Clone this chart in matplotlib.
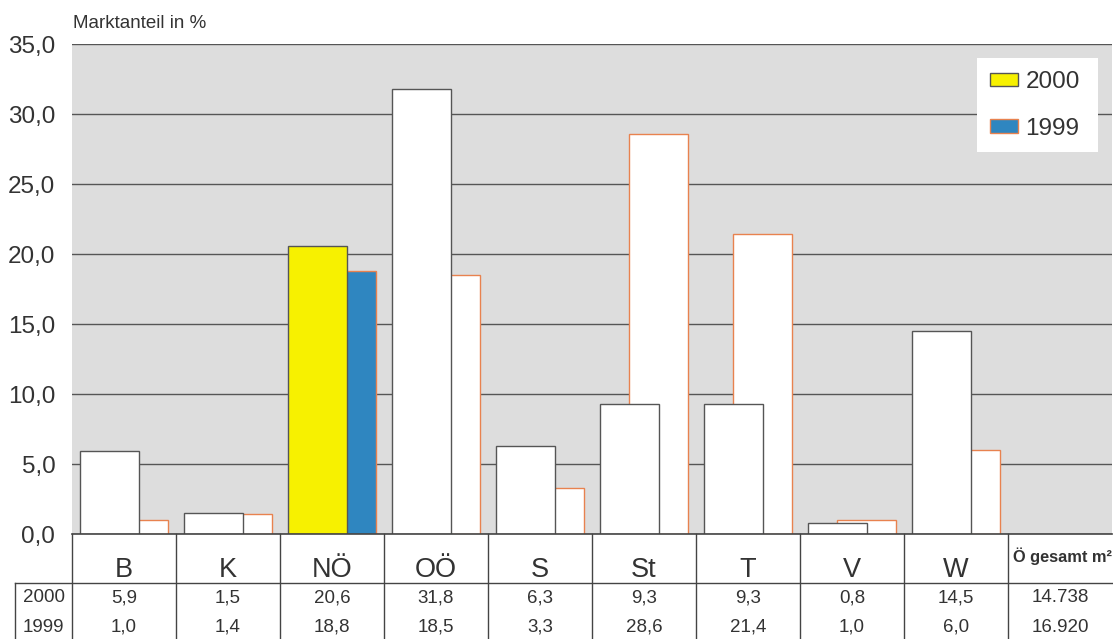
import matplotlib.pyplot as plt
from matplotlib.patches import Patch, Rectangle
import numpy as np

plt.rcParams['font.family'] = ['Liberation Sans', 'DejaVu Sans']

# data
regions = ["B", "K", "NÖ", "OÖ", "S", "St", "T", "V", "W"]
share_2000 = [5.9, 1.5, 20.6, 31.8, 6.3, 9.3, 9.3, 0.8, 14.5]
share_1999 = [1.0, 1.4, 18.8, 18.5, 3.3, 28.6, 21.4, 1.0, 6.0]
labels_2000 = ["5,9", "1,5", "20,6", "31,8", "6,3", "9,3", "9,3", "0,8", "14,5"]
labels_1999 = ["1,0", "1,4", "18,8", "18,5", "3,3", "28,6", "21,4", "1,0", "6,0"]
total_label = "Ö gesamt m²"
total_2000 = "14.738"
total_1999 = "16.920"
series_names = ["2000", "1999"]
highlight = "NÖ"

txt = "#333333"
grid_c = "#555555"
bg = "#dddddd"
yellow = "#f7f100"
blue = "#2f86c0"
orange = "#e8824f"

W, H = 1113, 639
fig = plt.figure(figsize=(W / 100, H / 100), dpi=100)

ax = fig.add_axes([72 / W, 105 / H, 1040 / W, 490 / H])
ax.set_facecolor(bg)
x = np.arange(len(regions))
bw = 0.567
off = 0.14

cols_2000 = [yellow if r == highlight else "white" for r in regions]
cols_1999 = [blue if r == highlight else "white" for r in regions]

ax.bar(x + off, share_1999, width=bw, color=cols_1999, edgecolor=orange, linewidth=1.0, zorder=2)
ax.bar(x - off, share_2000, width=bw, color=cols_2000, edgecolor=grid_c, linewidth=1.0, zorder=3)

ax.set_xlim(-0.5, 9.5)
ax.set_ylim(0, 35)
ax.set_yticks(np.arange(0, 36, 5))
ax.set_yticklabels([f"{v:.1f}".replace(".", ",") for v in np.arange(0, 36, 5)], fontsize=17.5, color=txt)
ax.tick_params(axis='y', length=0, pad=12)
ax.set_xticks([])
ax.yaxis.grid(True, color=grid_c, linewidth=1.0, zorder=1)
ax.set_axisbelow(True)
for s in ax.spines.values():
    s.set_visible(False)

fig.text(73 / W, 1 - 24 / H, "Marktanteil in %", fontsize=13.5, color=txt, va='center', ha='left')

# legend: white box + frameless legend
ax.add_patch(Rectangle(((977 - 72) / 1040, (534 - 152) / 490), 121 / 1040, 94 / 490,
                       transform=ax.transAxes, facecolor="white", edgecolor="none", zorder=5))
handles = [Patch(facecolor=yellow, edgecolor=grid_c, label=series_names[0]),
           Patch(facecolor=blue, edgecolor=orange, label=series_names[1])]
leg = ax.legend(handles=handles, loc='upper left', bbox_to_anchor=((977 - 72) / 1040, (534 - 58) / 490),
                fontsize=17.5, frameon=False,
                handlelength=1.15, handleheight=0.45, handletextpad=0.3, labelspacing=1.0,
                borderpad=0.55, borderaxespad=0, labelcolor=txt)
leg.set_zorder(6)

# table below
tb = fig.add_axes([72 / W, 0, 1040 / W, 105 / H])
tb.set_xlim(-0.5, 9.5)
tb.set_ylim(0, 105)
tb.axis('off')
lc = "#444444"
left_x = -0.5 - 57 / 104
for k in range(10):
    tb.plot([-0.5 + k, -0.5 + k], [0, 105], color=lc, lw=1.0, clip_on=False)
tb.plot([-0.5, 9.5], [105, 105], color=lc, lw=1.2, clip_on=False)
tb.plot([left_x, 9.5], [56, 56], color=lc, lw=1.0, clip_on=False)
tb.plot([left_x, left_x], [0, 56], color=lc, lw=1.0, clip_on=False)

for i, r in enumerate(regions):
    tb.text(i, 69, r, fontsize=19.5, color=txt, ha='center', va='center')
    tb.text(i, 41, labels_2000[i], fontsize=13.5, color=txt, ha='center', va='center')
    tb.text(i, 12, labels_1999[i], fontsize=13.5, color=txt, ha='center', va='center')
tb.text(9.02, 83, total_label, fontsize=11.8, fontweight='bold', color=txt, ha='center', va='center', clip_on=False)
tb.text(9, 41, total_2000, fontsize=13.5, color=txt, ha='center', va='center')
tb.text(9, 12, total_1999, fontsize=13.5, color=txt, ha='center', va='center')
lab_x = (left_x - 0.5) / 2
tb.text(lab_x, 41, series_names[0], fontsize=13.5, color=txt, ha='center', va='center', clip_on=False)
tb.text(lab_x, 12, series_names[1], fontsize=13.5, color=txt, ha='center', va='center', clip_on=False)

fig.savefig("out.png", dpi=100)
